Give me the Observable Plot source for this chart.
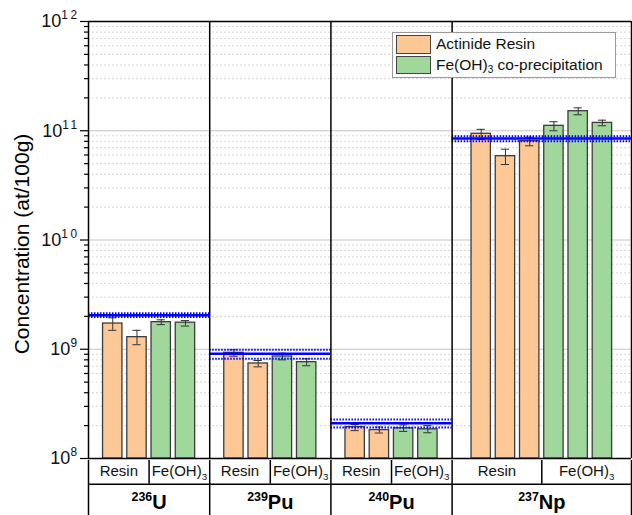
<!DOCTYPE html>
<html><head><meta charset="utf-8">
<script src="https://cdn.jsdelivr.net/npm/d3@7"></script>
<script src="https://cdn.jsdelivr.net/npm/@observablehq/plot@0.6"></script>
<style>
body{margin:0;background:#fff;font-family:"Liberation Sans",Arial,sans-serif;}
#wrap{position:relative;width:632px;height:515px;overflow:hidden;}
#wrap svg{display:block;}
.legend{position:absolute;left:392px;top:32px;width:224px;height:46px;box-sizing:border-box;border:1px solid #9a9a9a;background:#fff;padding:1px 0 0 3px;}
.legend .row{display:flex;align-items:center;height:20.5px;}
.legend .sw{width:35px;height:18.5px;box-sizing:border-box;border:1.5px solid #444;margin-right:5px;}
.legend .lab{font-size:15.5px;color:#111;white-space:nowrap;}
.legend sub{font-size:0.65em;vertical-align:-0.3em;line-height:0;}
</style></head><body><div id="wrap"></div>
<script>
// ---------------- data ----------------
const panelIsotopes = ["^{236}U", "^{239}Pu", "^{240}Pu", "^{237}Np"];
const methodKeys = ["Resin", "Fe"];
const methodLabels = ["Resin", "Fe(OH)_{3}"];
const legendLabels = ["Actinide Resin", "Fe(OH)_{3} co-precipitation"];
const barPanel  = [0,0,0,0, 1,1,1,1, 2,2,2,2, 3,3,3,3,3,3];
const barMethod = ["Resin","Resin","Fe","Fe", "Resin","Resin","Fe","Fe", "Resin","Resin","Fe","Fe", "Resin","Resin","Resin","Fe","Fe","Fe"];
const barValue  = [1.72e9,1.29e9,1.77e9,1.75e9, 9.27e8,7.41e8,8.59e8,7.62e8, 1.94e8,1.82e8,1.89e8,1.85e8, 9.38e10,5.85e10,8.02e10,1.109e11,1.51e11,1.18e11];
const barErrLow = [1.49e9,1.10e9,1.68e9,1.63e9, 8.63e8,6.90e8,8.0e8,7.06e8, 1.80e8,1.71e8,1.77e8,1.72e8, 8.32e10,4.91e10,7.28e10,1.0e11,1.40e11,1.11e11];
const barErrHigh= [1.94e9,1.49e9,1.86e9,1.83e9, 9.89e8,7.89e8,9.2e8,8.18e8, 2.05e8,1.94e8,2.03e8,2.00e8, 1.03e11,6.78e10,8.73e10,1.21e11,1.62e11,1.25e11];
const refValue  = [2.05e9, 9.08e8, 2.10e8, 8.49e10];
const refLow    = [1.97e9, 8.18e8, 1.92e8, 8.0e10];
const refHigh   = [2.14e9, 9.89e8, 2.28e8, 8.9e10];
const yTicks = [1e8, 1e9, 1e10, 1e11, 1e12];
const yLabel = "Concentration (at/100g)";

// ---------------- layout (slot units) ----------------
const panelWidths = [5, 5, 5, 7.4];
const firstBarOffset = [1, 1, 1, 1.2];
const barHalf = 0.4, capHalf = 0.17;
const pxPerSlot = 543 / 22.4;
const colors = {Resin: "#fdc896", Fe: "#a0d79b"};
const font = '"Liberation Sans", Arial, sans-serif';

const panelStart = panelWidths.map((w, i) => d3.sum(panelWidths.slice(0, i)));
const panelEnd = panelStart.map((s, i) => s + panelWidths[i]);
const xMax = panelEnd[panelEnd.length - 1];

const bars = barValue.map((v, i) => {
  const p = barPanel[i];
  const k = barPanel.slice(0, i).filter(q => q === p).length;
  const cx = panelStart[p] + firstBarOffset[p] + k;
  return {p, method: barMethod[i], value: v, lo: barErrLow[i], hi: barErrHigh[i], cx};
});
const refs = refValue.map((v, p) => ({p, v, lo: refLow[p], hi: refHigh[p], x1: panelStart[p], x2: panelEnd[p]}));

const cells = [];
const dividers = [];
panelStart.forEach((s, p) => {
  const pb = bars.filter(b => b.p === p);
  const lastResin = d3.max(pb.filter(b => b.method === "Resin"), b => b.cx);
  const firstFe = d3.min(pb.filter(b => b.method === "Fe"), b => b.cx);
  const div = (lastResin + firstFe) / 2;
  dividers.push(div);
  cells.push({x: (s + div) / 2, label: methodLabels[0]});
  cells.push({x: (div + panelEnd[p]) / 2, label: methodLabels[1]});
});
const isoLabels = panelIsotopes.map((t, p) => ({x: (panelStart[p] + panelEnd[p]) / 2, label: t}));

const minor = [];
for (let e = 8; e < 12; e++) for (let m = 2; m <= 9; m++) minor.push(m * Math.pow(10, e));
const boundaries = [0, ...panelEnd];

// ---------------- rich text helper ----------------
function rich(svg, supSize = 0.62, supSpacing = 0) {
  d3.select(svg).selectAll("text").each(function () {
    const s = this.textContent;
    if (!/[\^_]\{/.test(s)) return;
    const el = d3.select(this);
    el.text(null);
    const re = /([\^_])\{([^}]*)\}|([^\^_]+)/g;
    let m, cur = 0;
    while ((m = re.exec(s))) {
      let t = 0, size = 1, str, sup = false;
      if (m[3] !== undefined) { str = m[3]; }
      else if (m[1] === "^") { str = m[2]; t = -0.44; size = supSize; sup = true; }
      else { str = m[2]; t = 0.27; size = 0.65; }
      const ts = el.append("tspan").text(str);
      if (size !== 1) ts.attr("font-size", size + "em");
      if (sup && supSpacing) ts.attr("letter-spacing", supSpacing);
      if (t !== cur) ts.attr("dy", ((t - cur) / size).toFixed(3) + "em");
      cur = t;
    }
  });
}

// ---------------- main plot ----------------
const main = Plot.plot({
  width: 632, height: 460,
  marginLeft: 88, marginRight: 1, marginTop: 21, marginBottom: 2,
  style: {fontFamily: font, background: "transparent", color: "#000", overflow: "visible"},
  x: {domain: [0, xMax], axis: null},
  y: {type: "log", domain: [1e8, 1e12], axis: null},
  marks: [
    Plot.ruleY(minor, {stroke: "#d6d6d6", strokeDasharray: "2,2", strokeWidth: 1}),
    Plot.ruleY(yTicks, {stroke: "#c4c4c4", strokeWidth: 1}),
    Plot.rectY(bars, {x1: d => d.cx - barHalf, x2: d => d.cx + barHalf, y1: 1e8, y2: "value",
      fill: d => colors[d.method], stroke: "#3c3c3c", strokeWidth: 1.3}),
    Plot.ruleX(bars, {x: "cx", y1: "lo", y2: "hi", stroke: "#333", strokeWidth: 1}),
    Plot.ruleY(bars, {y: "lo", x1: d => d.cx - capHalf, x2: d => d.cx + capHalf, stroke: "#333", strokeWidth: 1}),
    Plot.ruleY(bars, {y: "hi", x1: d => d.cx - capHalf, x2: d => d.cx + capHalf, stroke: "#333", strokeWidth: 1}),
    Plot.ruleY(refs, {y: "lo", x1: "x1", x2: "x2", stroke: "#0000ff", strokeWidth: 2, strokeDasharray: "1.5,1.5"}),
    Plot.ruleY(refs, {y: "hi", x1: "x1", x2: "x2", stroke: "#0000ff", strokeWidth: 2, strokeDasharray: "1.5,1.5"}),
    Plot.ruleY(refs, {y: "v", x1: "x1", x2: "x2", stroke: "#0000ff", strokeWidth: 2.5}),
    Plot.ruleY([1e8, 1e12], {stroke: "#000", strokeWidth: 1.5}),
    Plot.ruleX(boundaries, {y1: 1e8, y2: 1e12, stroke: "#000", strokeWidth: 1.5}),
    Plot.ruleY(minor, {x1: -4 / pxPerSlot, x2: 0, stroke: "#000", strokeWidth: 1.2}),
    Plot.ruleY(yTicks, {x1: -8 / pxPerSlot, x2: 0, stroke: "#000", strokeWidth: 1.2}),
    Plot.text(yTicks, {y: d => d, frameAnchor: "left", dx: -9, textAnchor: "end", fontSize: 18, fill: "#111",
      text: d => `10^{${Math.round(Math.log10(d))}}`}),
    Plot.text([yLabel], {frameAnchor: "left", textAnchor: "middle", dx: -66, dy: 4, rotate: -90, fontSize: 21})
  ]
});
rich(main, 0.66, 2.5);
main.style.overflow = "visible";

// ---------------- category table below ----------------
const table = Plot.plot({
  width: 632, height: 55,
  marginLeft: 88, marginRight: 1, marginTop: 0, marginBottom: 0,
  style: {fontFamily: font, background: "transparent", color: "#000"},
  x: {domain: [0, xMax], axis: null},
  y: {domain: [0, 2.2], range: [-2.5, 55], axis: null},
  marks: [
    Plot.ruleY([1], {x1: 0, x2: xMax, stroke: "#000", strokeWidth: 1.5}),
    Plot.ruleX(dividers, {y1: 0, y2: 1, stroke: "#000", strokeWidth: 1.5}),
    Plot.ruleX(boundaries, {y1: 0, y2: 2.2, stroke: "#000", strokeWidth: 1.5}),
    Plot.text(cells, {x: "x", y: 0.5, text: "label", fontSize: 15, fill: "#111"}),
    Plot.text(isoLabels, {x: "x", y: 1.72, text: "label", fontSize: 20, fontWeight: "bold", fill: "#000"})
  ]
});
rich(table);

const wrap = document.getElementById("wrap");
wrap.appendChild(main);
wrap.appendChild(table);
table.style.position = "relative";

// ---------------- legend ----------------
const legend = document.createElement("div");
legend.className = "legend";
legendLabels.forEach((lab, i) => {
  const row = document.createElement("div");
  row.className = "row";
  const sw = document.createElement("div");
  sw.className = "sw";
  sw.style.background = colors[methodKeys[i]];
  const tx = document.createElement("span");
  tx.className = "lab";
  tx.innerHTML = lab.replace(/_\{([^}]*)\}/g, "<sub>$1</sub>");
  row.appendChild(sw); row.appendChild(tx);
  legend.appendChild(row);
});
wrap.appendChild(legend);
</script></body></html>
